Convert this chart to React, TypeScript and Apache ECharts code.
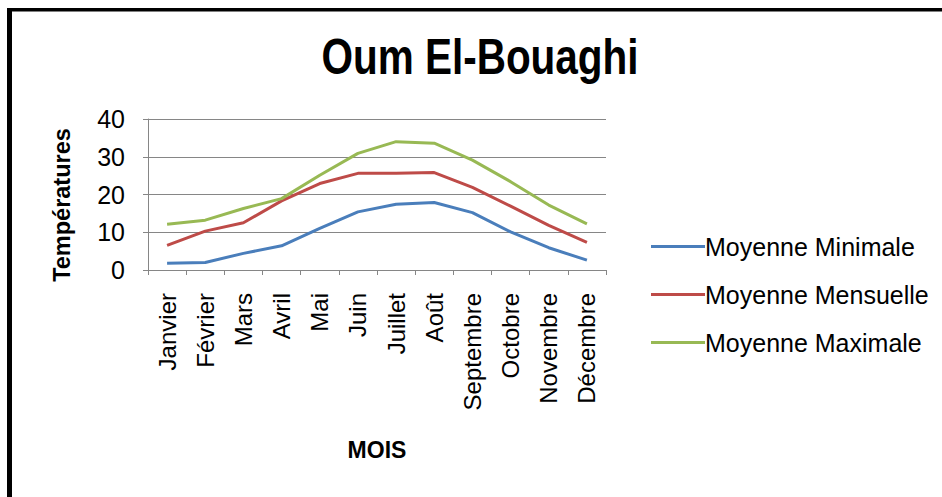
import React, { useEffect, useRef } from "react";
import * as echarts from "echarts";

const months = ["Janvier", "Février", "Mars", "Avril", "Mai", "Juin", "Juillet", "Août", "Septembre", "Octobre", "Novembre", "Décembre"];
const moyenneMinimale = [1.8, 2.0, 4.4, 6.4, 11.0, 15.4, 17.4, 17.9, 15.2, 10.1, 5.9, 2.6];
const moyenneMensuelle = [6.5, 10.3, 12.5, 18.3, 22.9, 25.6, 25.6, 25.8, 21.9, 16.9, 11.8, 7.3];
const moyenneMaximale = [12.1, 13.2, 16.3, 18.9, 25.1, 30.9, 34.0, 33.6, 29.1, 23.4, 17.2, 12.2];
const yTicks = [0, 10, 20, 30, 40];

const seriesNames = ["Moyenne Minimale", "Moyenne Mensuelle", "Moyenne Maximale"];
const colors = ["#4A7EBB", "#BE4B48", "#98B954"];

export default function App() {
  const ref = useRef<HTMLDivElement>(null);
  useEffect(() => {
    if (!ref.current) return;
    const chart = echarts.init(ref.current, undefined, { renderer: "svg" });
    const data = [moyenneMinimale, moyenneMensuelle, moyenneMaximale];
    chart.setOption({
      animation: false,
      backgroundColor: "#ffffff",
      graphic: [
        { type: "rect", shape: { x: 7, y: 8, width: 5, height: 489 }, style: { fill: "#000" } },
        { type: "rect", shape: { x: 7, y: 8, width: 935, height: 3.5 }, style: { fill: "#000" } },
        {
          type: "text",
          x: 480,
          y: 57,
          scaleX: 0.81,
          style: {
            text: "Oum El-Bouaghi",
            x: 0,
            y: 0,
            align: "center",
            verticalAlign: "middle",
            fontFamily: "Liberation Sans",
            fontSize: 50,
            fontWeight: "bold",
            fill: "#000",
          },
        },
        {
          type: "text",
          x: 62,
          y: 205,
          rotation: Math.PI / 2,
          style: {
            text: "Températures",
            x: 0,
            y: 0,
            align: "center",
            verticalAlign: "middle",
            fontFamily: "Liberation Sans",
            fontSize: 23.5,
            fontWeight: "bold",
            fill: "#000",
          },
        },
      ],
      legend: {
        orient: "vertical",
        left: 646,
        top: 229,
        icon: "rect",
        itemWidth: 54,
        itemHeight: 3,
        itemGap: 23,
        data: seriesNames,
        textStyle: {
          fontFamily: "Liberation Sans",
          fontSize: 25,
          lineHeight: 25,
          color: "#000",
          padding: [0, 0, 0, -5],
        },
      },
      grid: { left: 148, right: 336, top: 119, bottom: 227, containLabel: false },
      xAxis: {
        type: "category",
        data: months,
        boundaryGap: true,
        name: "MOIS",
        nameLocation: "middle",
        nameGap: 168,
        nameTextStyle: {
          fontFamily: "Liberation Sans",
          fontSize: 23,
          fontWeight: "bold",
          color: "#000",
        },
        axisLine: { lineStyle: { color: "#868686", width: 1 } },
        axisTick: { show: true, length: 5, alignWithLabel: false, lineStyle: { color: "#868686" } },
        axisLabel: {
          rotate: 90,
          margin: 23,
          interval: 0,
          fontFamily: "Liberation Sans",
          fontSize: 24,
          color: "#000",
        },
        splitLine: { show: false },
      },
      yAxis: {
        type: "value",
        min: 0,
        max: 40,
        interval: 10,
        axisLine: { show: true, lineStyle: { color: "#868686", width: 1 } },
        axisTick: { show: true, length: 5, lineStyle: { color: "#868686" } },
        axisLabel: {
          margin: 23,
          fontFamily: "Liberation Sans",
          fontSize: 25,
          color: "#000",
          formatter: (v: number) => (yTicks.includes(v) ? String(v) : ""),
        },
        splitLine: { show: true, lineStyle: { color: "#868686", width: 1 } },
      },
      series: data.map((d, i) => ({
        name: seriesNames[i],
        type: "line",
        data: d,
        symbol: "none",
        lineStyle: { color: colors[i], width: 3 },
        itemStyle: { color: colors[i] },
      })),
    });
    return () => chart.dispose();
  }, []);
  return (
    <div
      ref={ref}
      style={{ position: "absolute", left: 0, top: 0, width: 942, height: 497 }}
    />
  );
}
